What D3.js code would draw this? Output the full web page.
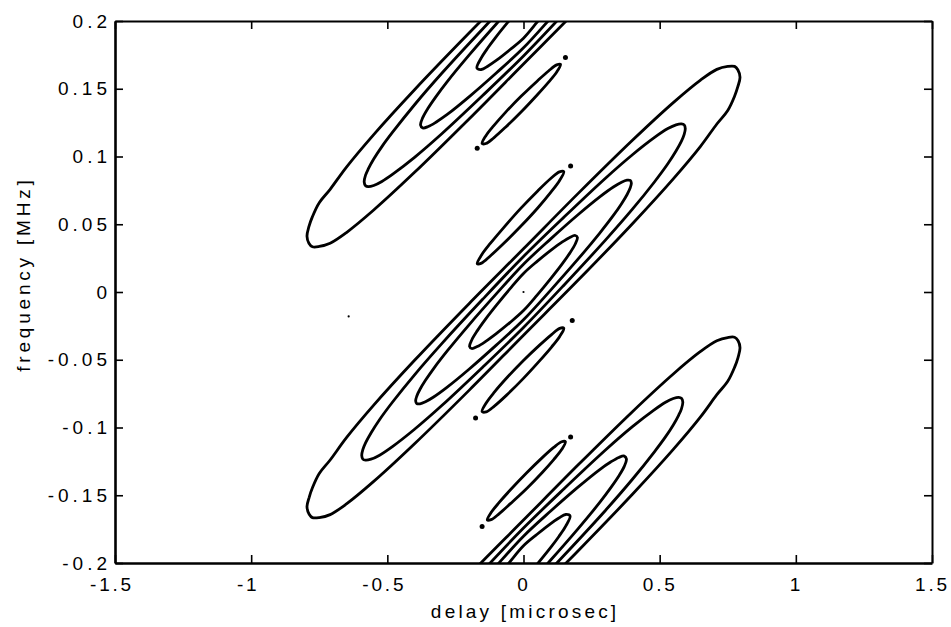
<!DOCTYPE html>
<html><head><meta charset="utf-8">
<script src="https://cdn.jsdelivr.net/npm/d3@7"></script>
<style>
html,body{margin:0;padding:0;background:#fff;}
svg{display:block;}
text{font-family:"Liberation Sans",Arial,Helvetica,sans-serif;fill:#000;}
</style>
</head><body>
<svg id="chart" width="951" height="627"></svg>
<script>
// ---------- data ----------
const xTickValues = [-1.5, -1, -0.5, 0, 0.5, 1, 1.5];
const xTickLabels = ["-1.5", "-1", "-0.5", "0", "0.5", "1", "1.5"];
const yTickValues = [-0.2, -0.15, -0.1, -0.05, 0, 0.05, 0.1, 0.15, 0.2];
const yTickLabels = ["-0.2", "-0.15", "-0.1", "-0.05", "0", "0.05", "0.1", "0.15", "0.2"];
const xTitle = "delay [microsec]";
const yTitle = "frequency [MHz]";

// centre frequency of each main lobe [MHz]
const centreLobe = [0];
const outerLobes = [0.2, -0.2];

// contour outlines relative to lobe centre: [delay, upper freq, lower freq]
const centreLevel08 = [[-0.198,-0.0402,-0.0402],[-0.19,-0.0354,-0.0417],[-0.17,-0.0287,-0.0403],[-0.14,-0.0202,-0.0366],[-0.10,-0.0099,-0.0307],[-0.05,0.0023,-0.0226],[0,0.0137,-0.0137],[0.05,0.0226,-0.0023],[0.10,0.0307,0.0099],[0.14,0.0366,0.0202],[0.17,0.0403,0.0287],[0.19,0.0417,0.0354],[0.198,0.0402,0.0402]];
const centreLevel06 = [[-0.396,-0.0804,-0.0804],[-0.392,-0.0769,-0.0823],[-0.38,-0.0718,-0.0825],[-0.36,-0.0652,-0.0810],[-0.33,-0.0565,-0.0775],[-0.28,-0.0435,-0.0702],[-0.2,-0.0242,-0.0570],[-0.1,-0.0014,-0.0392],[0,0.0205,-0.0205],[0.1,0.0392,0.0014],[0.2,0.0570,0.0242],[0.28,0.0702,0.0435],[0.33,0.0775,0.0565],[0.36,0.0810,0.0652],[0.38,0.0825,0.0718],[0.392,0.0823,0.0769],[0.396,0.0804,0.0804]];
const centreLevel04 = [[-0.594,-0.1206,-0.1206],[-0.59,-0.1163,-0.1233],[-0.58,-0.1113,-0.1241],[-0.56,-0.1040,-0.1234],[-0.53,-0.0946,-0.1206],[-0.48,-0.0810,-0.1139],[-0.4,-0.0611,-0.1013],[-0.3,-0.0381,-0.0838],[-0.15,-0.0054,-0.0555],[0,0.0262,-0.0262],[0.15,0.0555,0.0054],[0.3,0.0838,0.0381],[0.4,0.1013,0.0611],[0.48,0.1139,0.0810],[0.53,0.1206,0.0946],[0.56,0.1234,0.1040],[0.58,0.1241,0.1113],[0.59,0.1233,0.1163],[0.594,0.1206,0.1206]];
const centreLevel02 = [[-0.795,-0.1585,-0.1585],[-0.787,-0.1515,-0.1640],[-0.775,-0.1445,-0.1665],[-0.75,-0.1340,-0.1665],[-0.71,-0.1240,-0.1643],[-0.65,-0.1075,-0.1564],[-0.55,-0.0835,-0.1398],[-0.4,-0.0504,-0.1120],[-0.2,-0.0086,-0.0726],[0,0.0319,-0.0319],[0.2,0.0726,0.0086],[0.4,0.1120,0.0504],[0.55,0.1398,0.0835],[0.65,0.1564,0.1075],[0.71,0.1643,0.1240],[0.75,0.1665,0.1340],[0.775,0.1665,0.1445],[0.787,0.1640,0.1515],[0.795,0.1585,0.1585]];

const outerLevel08 = [[-0.171,-0.0347,-0.0347],[-0.155,-0.0272,-0.0358],[-0.13,-0.0196,-0.0332],[-0.1,-0.0115,-0.0291],[-0.05,0.0009,-0.0212],[0,0.0127,-0.0127],[0.05,0.0212,-0.0009],[0.1,0.0291,0.0115],[0.13,0.0332,0.0196],[0.155,0.0358,0.0272],[0.171,0.0347,0.0347]];
const outerLevel06 = [[-0.378,-0.0767,-0.0767],[-0.37,-0.0713,-0.0789],[-0.35,-0.0642,-0.0779],[-0.32,-0.0554,-0.0745],[-0.28,-0.0447,-0.0690],[-0.2,-0.0252,-0.0560],[-0.1,-0.0022,-0.0384],[0,0.0198,-0.0198],[0.1,0.0384,0.0022],[0.2,0.0560,0.0252],[0.28,0.0690,0.0447],[0.32,0.0745,0.0554],[0.35,0.0779,0.0642],[0.37,0.0789,0.0713],[0.378,0.0767,0.0767]];
const outerLevel04 = [[-0.585,-0.1188,-0.1188],[-0.58,-0.1138,-0.1216],[-0.57,-0.1092,-0.1223],[-0.55,-0.1019,-0.1214],[-0.52,-0.0927,-0.1184],[-0.48,-0.0819,-0.1130],[-0.4,-0.0618,-0.1006],[-0.3,-0.0386,-0.0832],[-0.15,-0.0059,-0.0550],[0,0.0258,-0.0258],[0.15,0.0550,0.0059],[0.3,0.0832,0.0386],[0.4,0.1006,0.0618],[0.48,0.1130,0.0819],[0.52,0.1184,0.0927],[0.55,0.1214,0.1019],[0.57,0.1223,0.1092],[0.58,0.1216,0.1138],[0.585,0.1188,0.1188]];
const outerLevel02 = [[-0.795,-0.1588,-0.1588],[-0.788,-0.1518,-0.1640],[-0.775,-0.1444,-0.1666],[-0.75,-0.1341,-0.1664],[-0.71,-0.1242,-0.1640],[-0.65,-0.1078,-0.1561],[-0.55,-0.0838,-0.1395],[-0.4,-0.0507,-0.1117],[-0.2,-0.0089,-0.0723],[0,0.0317,-0.0317],[0.2,0.0723,0.0089],[0.4,0.1117,0.0507],[0.55,0.1395,0.0838],[0.65,0.1561,0.1078],[0.71,0.1640,0.1242],[0.75,0.1664,0.1341],[0.775,0.1666,0.1444],[0.788,0.1640,0.1518],[0.795,0.1588,0.1588]];

// small side-lobe islands (absolute coordinates): [delay, upper freq, lower freq]
const sideLobeA = [[-0.152,0.1096,0.1096],[-0.138,0.1154,0.1096],[-0.109,0.1228,0.1138],[-0.066,0.1326,0.1216],[-0.008,0.1446,0.1330],[0.050,0.1556,0.1454],[0.093,0.1633,0.1551],[0.122,0.1676,0.1624],[0.136,0.1680,0.1680]];
const sideLobeB = [[-0.17,0.0209,0.0209],[-0.154,0.0273,0.0213],[-0.122,0.0358,0.0266],[-0.075,0.0470,0.0354],[-0.011,0.0615,0.0483],[0.053,0.0748,0.0622],[0.100,0.0838,0.0735],[0.132,0.0887,0.0821],[0.148,0.0888,0.0888]];
const sideLobeC = [[-0.152,-0.0883,-0.0883],[-0.137,-0.0819,-0.0885],[-0.107,-0.0739,-0.0842],[-0.062,-0.0635,-0.0761],[-0.002,-0.0509,-0.0641],[0.058,-0.0394,-0.0510],[0.103,-0.0314,-0.0406],[0.133,-0.0268,-0.0328],[0.148,-0.0268,-0.0268]];
const sideLobeD = [[-0.133,-0.1682,-0.1682],[-0.119,-0.1628,-0.1680],[-0.090,-0.1555,-0.1637],[-0.047,-0.1458,-0.1560],[0.011,-0.1336,-0.1452],[0.068,-0.1224,-0.1334],[0.111,-0.1147,-0.1237],[0.140,-0.1105,-0.1163],[0.154,-0.1105,-0.1105]];

// tiny closed contours (dots) [delay, freq]
const dots = [[0.154,0.173],[-0.170,0.106],[0.173,0.093],[0.179,-0.021],[-0.176,-0.093],[0.173,-0.107],[-0.152,-0.173]];
const specks = [[0.0,0.0],[-0.642,-0.018]];

// ---------- drawing ----------
const svg = d3.select("#chart");
const W = 951, H = 627;
const M = {left:115, right:932, top:21, bottom:563};
svg.append("rect").attr("width",W).attr("height",H).attr("fill","#fff");

const x = d3.scaleLinear().domain([-1.5,1.5]).range([M.left,M.right]);
const y = d3.scaleLinear().domain([-0.2,0.2]).range([M.bottom,M.top]);

svg.append("clipPath").attr("id","plotclip").append("rect")
  .attr("x",M.left).attr("y",M.top).attr("width",M.right-M.left).attr("height",M.bottom-M.top);

const line = d3.line().x(d=>x(d[0])).y(d=>y(d[1])).curve(d3.curveCatmullRomClosed.alpha(0.5));
function outline(rows, dNu){
  const up = rows.map(r=>[r[0], r[1]+dNu]);
  const lo = rows.slice(1,-1).reverse().map(r=>[r[0], r[2]+dNu]);
  return up.concat(lo);
}
const shapes = [];
centreLobe.forEach(c=>[centreLevel02,centreLevel04,centreLevel06,centreLevel08].forEach(s=>shapes.push(outline(s,c))));
outerLobes.forEach(c=>[outerLevel02,outerLevel04,outerLevel06,outerLevel08].forEach(s=>shapes.push(outline(s,c))));
[sideLobeA,sideLobeB,sideLobeC,sideLobeD].forEach(s=>shapes.push(outline(s,0)));

const g = svg.append("g").attr("clip-path","url(#plotclip)");
g.selectAll("path.ct").data(shapes).join("path").attr("class","ct")
  .attr("d",line).attr("fill","none").attr("stroke","#000")
  .attr("stroke-width",2.8).attr("stroke-linejoin","round");
g.selectAll("circle.dot").data(dots).join("circle").attr("class","dot")
  .attr("cx",d=>x(d[0])).attr("cy",d=>y(d[1])).attr("r",2.5).attr("fill","#000");
g.selectAll("circle.speck").data(specks).join("circle").attr("class","speck")
  .attr("cx",d=>x(d[0])).attr("cy",d=>y(d[1])).attr("r",1.1).attr("fill","#000");

// axes (MATLAB style, inward ticks on all sides)
const FS = 19, LSX = 2.8, LSY = 4, LST = 3.2, LSYT = 3.8;
const axB = svg.append("g").attr("transform",`translate(0,${M.bottom})`)
  .call(d3.axisBottom(x).tickValues(xTickValues).tickFormat((d,i)=>xTickLabels[i]).tickSize(-8).tickSizeOuter(0).tickPadding(14.5));
const axT = svg.append("g").attr("transform",`translate(0,${M.top})`)
  .call(d3.axisTop(x).tickValues(xTickValues).tickFormat("").tickSize(-8).tickSizeOuter(0));
const axL = svg.append("g").attr("transform",`translate(${M.left},0)`)
  .call(d3.axisLeft(y).tickValues(yTickValues).tickFormat((d,i)=>yTickLabels[i]).tickSize(-8).tickSizeOuter(0).tickPadding(8));
const axR = svg.append("g").attr("transform",`translate(${M.right},0)`)
  .call(d3.axisRight(y).tickValues(yTickValues).tickFormat("").tickSize(-8).tickSizeOuter(0));

[axB,axT,axL,axR].forEach(a=>{
  a.selectAll(".tick line").attr("stroke","#000").attr("stroke-width",1.6);
  a.select(".domain").attr("stroke","#000");
  a.selectAll("text").attr("font-size",FS).attr("font-family",'"Liberation Sans",Arial,sans-serif');
});
axL.select(".domain").attr("stroke-width",2.6);
axB.select(".domain").attr("stroke-width",2.6);
axT.select(".domain").attr("stroke-width",2);
axR.select(".domain").attr("stroke-width",2);
axL.selectAll(".tick text").attr("letter-spacing",LSY+"px").attr("dx",LSY);
axB.selectAll(".tick text").attr("letter-spacing",LSX+"px").attr("dx",d=> d<0 ? -3.5 : 0);

svg.append("text").attr("x",x(0)+LST/2).attr("y",618).attr("text-anchor","middle")
  .attr("font-size",FS).attr("letter-spacing",LST+"px").text(xTitle);
svg.append("text").attr("transform",`translate(30,${276}) rotate(-90)`).attr("text-anchor","middle")
  .attr("dx",LSYT/2).attr("font-size",FS).attr("letter-spacing",LSYT+"px").text(yTitle);
</script>
</body></html>
